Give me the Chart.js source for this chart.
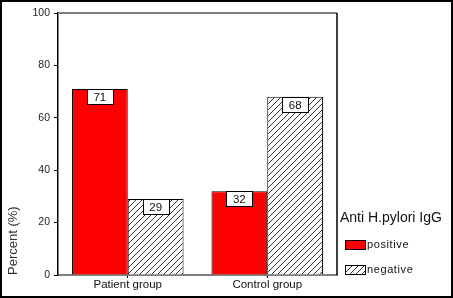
<!DOCTYPE html>
<html>
<head>
<meta charset="utf-8">
<script src="https://cdn.jsdelivr.net/npm/chart.js@4"></script>
<style>
  html, body { margin: 0; padding: 0; background: #fff; }
  canvas { display: block; }
</style>
</head>
<body>
<canvas id="barChart" width="453" height="298"></canvas>
<script>
// donnees
const categories = ["Patient group", "Control group"];
const positive = [71, 32];
const negative = [29, 68];
const yTicks = [0, 20, 40, 60, 80, 100];
const legendTitle = "Anti H.pylori IgG";
const seriesNames = ["positive", "negative"];

const FONT = "Arial, 'Liberation Sans', sans-serif";

// motif hachure
function makeHatch() {
    const size = 6;
    const c = document.createElement("canvas");
    c.width = size;
    c.height = size;
    const g = c.getContext("2d");
    g.fillStyle = "#fff";
    g.fillRect(0, 0, size, size);
    g.strokeStyle = "#333";
    g.lineWidth = 1;
    g.beginPath();
    g.moveTo(0, size); g.lineTo(size, 0);
    g.moveTo(-1, 1); g.lineTo(1, -1);
    g.moveTo(size - 1, size + 1); g.lineTo(size + 1, size - 1);
    g.stroke();
    return g.createPattern(c, "repeat");
}
const hatch = makeHatch();

// cadre, etiquettes et legende
const extras = {
    id: "extras",
    afterDraw(chart) {
        const ctx = chart.ctx;
        const a = chart.chartArea;
        ctx.save();

        // haut gris, droite noire
        ctx.strokeStyle = "#808080";
        ctx.lineWidth = 2;
        ctx.beginPath();
        ctx.moveTo(a.left, a.top);
        ctx.lineTo(a.right, a.top);
        ctx.stroke();
        ctx.strokeStyle = "#000";
        ctx.lineWidth = 1.5;
        ctx.beginPath();
        ctx.moveTo(a.right, a.top);
        ctx.lineTo(a.right, a.bottom);
        ctx.stroke();

        // etiquettes des valeurs
        ctx.font = "11.5px " + FONT;
        ctx.textAlign = "center";
        ctx.textBaseline = "middle";
        chart.data.datasets.forEach((ds, i) => {
            chart.getDatasetMeta(i).data.forEach((bar, j) => {
                const w = 26, h = 15;
                const x = Math.round(bar.x - w / 2) + 0.5;
                const y = Math.round(bar.y) + 0.5;
                ctx.fillStyle = "#fff";
                ctx.fillRect(x, y, w, h);
                ctx.strokeStyle = "#000";
                ctx.lineWidth = 1;
                ctx.strokeRect(x, y, w, h);
                ctx.fillStyle = "#111";
                ctx.fillText(String(ds.data[j]), bar.x, y + h / 2 + 0.5);
            });
        });

        // legende
        ctx.textAlign = "left";
        ctx.fillStyle = "#111";
        ctx.font = "14px " + FONT;
        ctx.textBaseline = "alphabetic";
        ctx.fillText(legendTitle, 340, 222);
        ctx.font = "11px " + FONT;
        ctx.letterSpacing = "0.6px";
        ctx.textBaseline = "middle";
        const rows = [245, 270];
        chart.data.datasets.forEach((ds, i) => {
            const y = rows[i];
            ctx.fillStyle = ds.backgroundColor;
            ctx.fillRect(345, y - 5, 20, 9);
            ctx.strokeStyle = "#000";
            ctx.lineWidth = 1;
            ctx.strokeRect(345.5, y - 4.5, 20, 9);
            ctx.fillStyle = "#111";
            ctx.fillText(ds.label, 367, y);
        });
        ctx.letterSpacing = "0px";

        // bordure exterieure
        ctx.strokeStyle = "#000";
        ctx.lineWidth = 2;
        ctx.strokeRect(1, 1, chart.width - 2, chart.height - 2);
        ctx.restore();
    }
};

const ctx = document.getElementById("barChart");
new Chart(ctx, {
    type: "bar",
    data: {
        labels: categories,
        datasets: [{
            label: seriesNames[0],
            data: positive,
            backgroundColor: "#ff0000",
            borderColor: "#000",
            borderWidth: 1,
            categoryPercentage: 0.8,
            barPercentage: 1.0
        }, {
            label: seriesNames[1],
            data: negative,
            backgroundColor: hatch,
            borderColor: "#000",
            borderWidth: 1,
            categoryPercentage: 0.8,
            barPercentage: 1.0
        }]
    },
    options: {
        responsive: false,
        animation: false,
        layout: {
            padding: { left: 0, right: 116, top: 13, bottom: 0 }
        },
        plugins: {
            legend: { display: false },
            tooltip: { enabled: false }
        },
        scales: {
            x: {
                grid: {
                    drawOnChartArea: false,
                    offset: false,
                    tickLength: 3,
                    color: "#000"
                },
                border: { color: "#808080", width: 2 },
                ticks: {
                    font: { family: FONT, size: 11.5 },
                    color: "#111",
                    padding: 0
                },
                afterFit(scale) { scale.height = 23; }
            },
            y: {
                min: 0,
                max: 100,
                afterBuildTicks(scale) {
                    scale.ticks = yTicks.map(v => ({ value: v }));
                },
                grid: {
                    drawOnChartArea: false,
                    tickLength: 4,
                    color: "#000"
                },
                border: { color: "#000", width: 1.5 },
                ticks: {
                    font: { family: FONT, size: 10.5 },
                    color: "#222",
                    padding: 4
                },
                title: {
                    display: true,
                    text: "Percent (%)",
                    align: "start",
                    font: { family: FONT, size: 13 },
                    color: "#333",
                    padding: { top: 6, bottom: 0 }
                },
                afterFit(scale) { scale.width = 58; }
            }
        }
    },
    plugins: [extras]
});
</script>
</body>
</html>
